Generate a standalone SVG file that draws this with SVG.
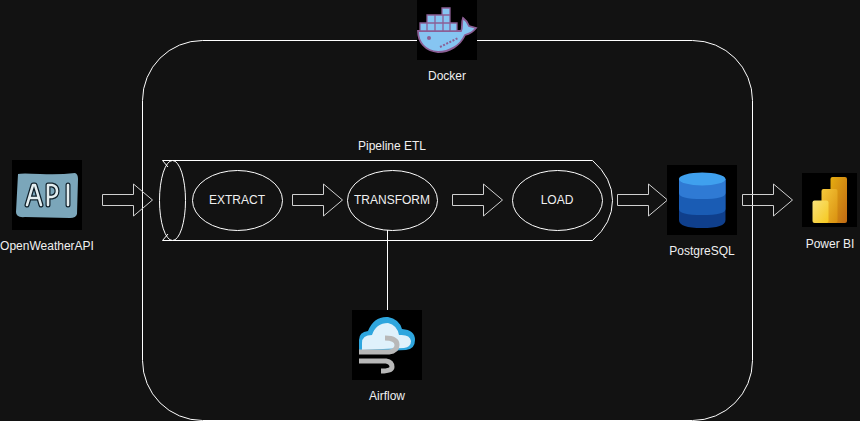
<svg xmlns="http://www.w3.org/2000/svg" width="860" height="421" viewBox="0 0 860 421">
<defs>
<style>
.l{fill:none;stroke:#fff;stroke-width:1}
.t{font-family:"Liberation Sans",Arial,sans-serif;font-size:12px;fill:#f0f0f0;text-anchor:middle}
.a{fill:none;stroke:#d0d0d0;stroke-width:1}
</style>
<path id="arr" class="a" d="M0,-5.500H31V-16L50,0L31,16V5.500H0Z"/>
<linearGradient id="pb1" x1="0" y1="0" x2="1" y2="1"><stop offset="0" stop-color="#e6ad10"/><stop offset="1" stop-color="#c06a14"/></linearGradient>
<linearGradient id="pb2" x1="0" y1="0" x2="1" y2="1"><stop offset="0" stop-color="#f6c93a"/><stop offset="1" stop-color="#d9900f"/></linearGradient>
<linearGradient id="pb3" x1="0" y1="0" x2="1" y2="1"><stop offset="0" stop-color="#f9e27a"/><stop offset="1" stop-color="#f6c81e"/></linearGradient>
</defs>
<rect width="860" height="421" fill="#121212"/>
<g id="docker-container"><rect class="l" x="142.500" y="40.500" width="610" height="380" rx="60" ry="60"/></g>
<g id="connectors">
<path class="l" d="M387.500,230V310"/>
<use href="#arr" x="102.500" y="200"/>
<use href="#arr" x="292.500" y="200"/>
<use href="#arr" x="452.500" y="200"/>
<use href="#arr" x="617.500" y="200"/>
<use href="#arr" x="742.500" y="200"/>
</g>
<g id="pipeline">
<path class="l" d="M172.500,160.500H592.500Q612.500,178 612.500,200.500Q612.500,223 592.500,240.500H172.500"/>
<path class="l" d="M162.500,160.500H172.500M162.500,160.500L168,167M162.500,240.500H172.500M162.500,240.500L168,234"/>
<ellipse class="l" cx="172.500" cy="200.500" rx="13" ry="40"/>
<text class="t" x="392" y="150">Pipeline ETL</text>
</g>
<g id="extract"><ellipse class="l" cx="237.500" cy="200.500" rx="45" ry="30"/><text class="t" x="237" y="204">EXTRACT</text></g>
<g id="transform"><ellipse class="l" cx="392.500" cy="200.500" rx="45" ry="30"/><text class="t" x="392" y="204">TRANSFORM</text></g>
<g id="load"><ellipse class="l" cx="557.500" cy="200.500" rx="45" ry="30"/><text class="t" x="557" y="204">LOAD</text></g>
<g id="openweatherapi">
<rect x="12" y="160" width="70" height="70" fill="#000"/>
<path d="M18,174Q21,173 40,174T75,173Q78,174 78,179L77,214Q76,218 70,218L25,217Q16,218 16,212Z" fill="#7ba6ba"/>
<path d="M27,205L33,185H35L41,205M29.500,198H38.500M48,205V185H52Q57,186 57,191Q57,196 52,197H48M68,185V205" fill="none" stroke="#10202a" stroke-width="5" stroke-linecap="round" stroke-linejoin="round"/>
<path d="M27,205L33,185H35L41,205M29.500,198H38.500M48,205V185H52Q57,186 57,191Q57,196 52,197H48M68,185V205" fill="none" stroke="#e4eef0" stroke-width="2.600" stroke-linecap="round" stroke-linejoin="round"/>
<text class="t" x="47" y="250">OpenWeatherAPI</text>
</g>
<g id="docker">
<rect x="417" y="0" width="60" height="60" fill="#000"/>
<path d="M418,31H461C463,28 461,23 463,18C467,21 468,23 469,26L476,28C473,32 469,34 465,35C460,46 449,52 438,52C425,51 418,42 418,31Z" fill="#86c5f2" stroke="#8c5f95" stroke-width="1.800"/>
<path fill="#86c5f2" stroke="#8c5f95" stroke-width="1.300" d="M420,23h7v8h-7zM427,23h8v8h-8zM435,23h8v8h-8zM443,23h7v8h-7zM450,23h7v8h-7zM427,15h8v8h-8zM435,15h8v8h-8zM443,15h7v8h-7zM442,8h8v7h-8z"/>
<circle cx="429" cy="38" r="2" fill="#8c5f95"/>
<path d="M440,47L458,38" stroke="#8c5f95" stroke-width="2" stroke-dasharray="2 1.500" fill="none"/>
<text class="t" x="447" y="80">Docker</text>
</g>
<g id="airflow">
<rect x="352" y="310" width="70" height="70" fill="#000"/>
<path d="M359,352V340Q359,332 368,331Q374,316 388,317Q399,319 402,329Q415,330 415,340Q415,349 406,350Z" fill="#2ea6de"/>
<path d="M362,350V343Q362,335 372,335Q376,323 388,323Q397,325 399,335Q410,334 411,341Q411,347 404,348Z" fill="#dff1fb"/>
<path d="M359,352H389Q397,351 397,345Q397,338 385,338M359,361H386Q392,362 392,367Q392,371 381,371" fill="none" stroke="#b8b8b8" stroke-width="5"/>
<text class="t" x="387" y="400">Airflow</text>
</g>
<g id="postgresql">
<rect x="667" y="165" width="70" height="70" fill="#000"/>
<path d="M679,179V220Q679,228 702,228Q725.500,228 725.500,220V179Z" fill="#0f3f8c"/>
<path d="M679,179V209Q679,215 702,215Q725.500,215 725.500,209V179Z" fill="#1a5cb4"/>
<path d="M679,179V193Q679,199 702,199Q725.500,199 725.500,193V179Z" fill="#2f7ad4"/>
<ellipse cx="702.200" cy="179" rx="23.300" ry="6.500" fill="#3fa0ee"/>
<text class="t" x="702" y="255">PostgreSQL</text>
</g>
<g id="powerbi">
<rect x="802" y="173" width="55" height="54" fill="#000"/>
<rect x="830.500" y="177" width="16.500" height="46" rx="2" fill="url(#pb1)"/>
<rect x="821.500" y="189" width="16" height="34" rx="2" fill="url(#pb2)"/>
<rect x="812.500" y="200.500" width="16" height="22.500" rx="2" fill="url(#pb3)"/>
<text class="t" x="830" y="248">Power BI</text>
</g>
</svg>
